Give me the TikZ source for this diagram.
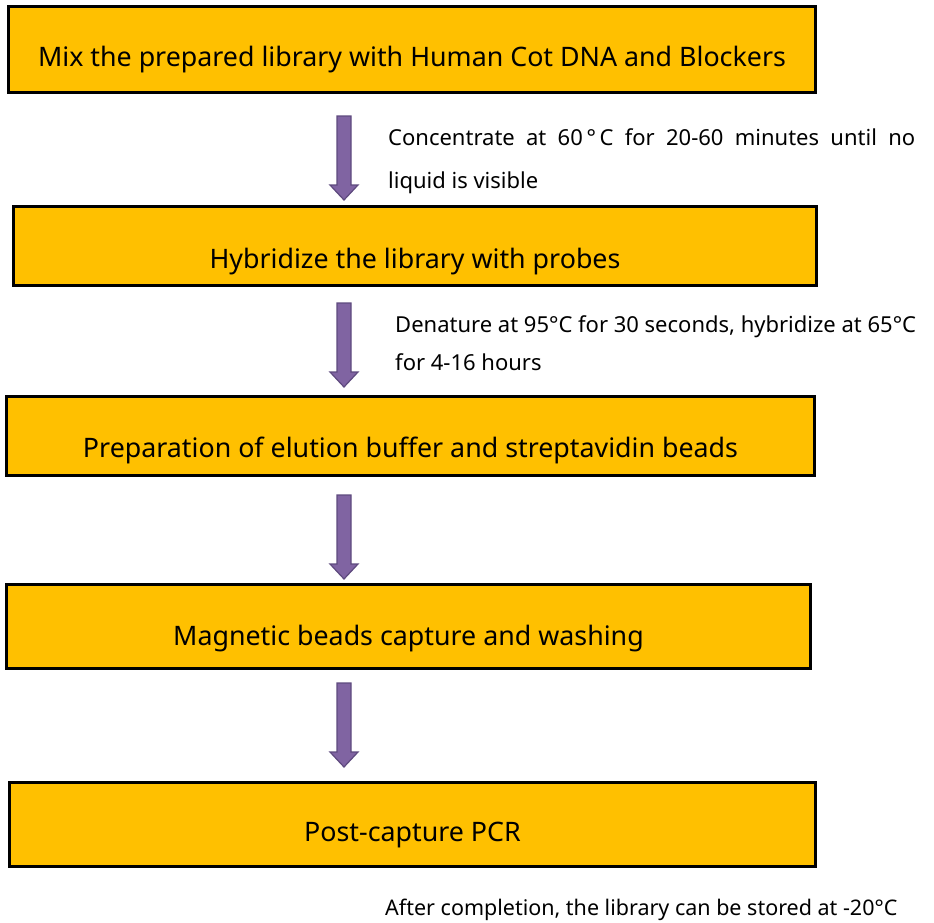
\documentclass[tikz,border=0pt]{standalone}
\usepackage{fontspec}
\setmainfont{Noto Sans}
\usetikzlibrary{calc}
\definecolor{boxfill}{HTML}{FFC000}
\definecolor{arrfill}{HTML}{8064A2}
\definecolor{arrline}{HTML}{5E4A7E}
\tikzset{
  box/.style={draw=black, line width=3pt, fill=boxfill, inner sep=0pt},
  boxtext/.style={font=\fontsize{26.8}{30}\selectfont, inner sep=0pt},
  note/.style={anchor=base west, inner sep=0pt, font=\fontsize{22}{26}\selectfont},
  blockarrow/.style={fill=arrfill, draw=arrline, line width=1.2pt, line join=miter}
}
\newcommand{\blockarr}[2]{%
  \draw[blockarrow] ($(#1)+(-7,0)$) -- ($(#1)+(7,0)$) -- ($(#2)+(7,-15)$) -- ($(#2)+(14,-15)$)
    -- (#2) -- ($(#2)+(-14,-15)$) -- ($(#2)+(-7,-15)$) -- cycle;}
\begin{document}
\begin{tikzpicture}[x=1pt, y=-1pt]
\useasboundingbox (0,0) rectangle (934,922);
\node[box, minimum width=807pt, minimum height=86pt,
  label={[boxtext, yshift=-10pt]center:Mix the prepared library with Human Cot DNA and Blockers}] (b1) at (412,49.5) {};
\node[box, minimum width=803pt, minimum height=79pt,
  label={[boxtext, yshift=-16pt]center:Hybridize the library with probes}] (b2) at (415,246) {};
\node[box, minimum width=808pt, minimum height=79pt,
  label={[boxtext, yshift=-14pt]center:Preparation of elution buffer and streptavidin beads}] (b3) at (410.5,436) {};
\node[box, minimum width=804pt, minimum height=84pt,
  label={[boxtext, yshift=-12.5pt]center:Magnetic beads capture and washing}] (b4) at (408.5,626.5) {};
\node[box, minimum width=806pt, minimum height=84pt,
  label={[boxtext, yshift=-10.5pt]center:Post-capture PCR}] (b5) at (412.5,824.5) {};

\coordinate (a1s) at (344,116); \coordinate (a1e) at (344,200);
\coordinate (a2s) at (344,303); \coordinate (a2e) at (344,387);
\coordinate (a3s) at (344,495); \coordinate (a3e) at (344,579);
\coordinate (a4s) at (344,683); \coordinate (a4e) at (344,767);
\blockarr{a1s}{a1e}
\blockarr{a2s}{a2e}
\blockarr{a3s}{a3e}
\blockarr{a4s}{a4e}

\node[note] (n1) at (388,145) {\parbox[t]{527pt}{\baselineskip=43pt\parindent=0pt Concentrate at 60\,°\,C for 20-60 minutes until no\linebreak liquid is visible}};
\node[note] (n2) at (395,332) {\parbox[t]{560pt}{\baselineskip=38pt\parindent=0pt\raggedright Denature at 95°C for 30 seconds, hybridize at 65°C\\ for 4-16 hours}};
\node[note, font=\fontsize{21.5}{26}\selectfont] (n3) at (385,915) {After completion, the library can be stored at -20°C};
\end{tikzpicture}
\end{document}
